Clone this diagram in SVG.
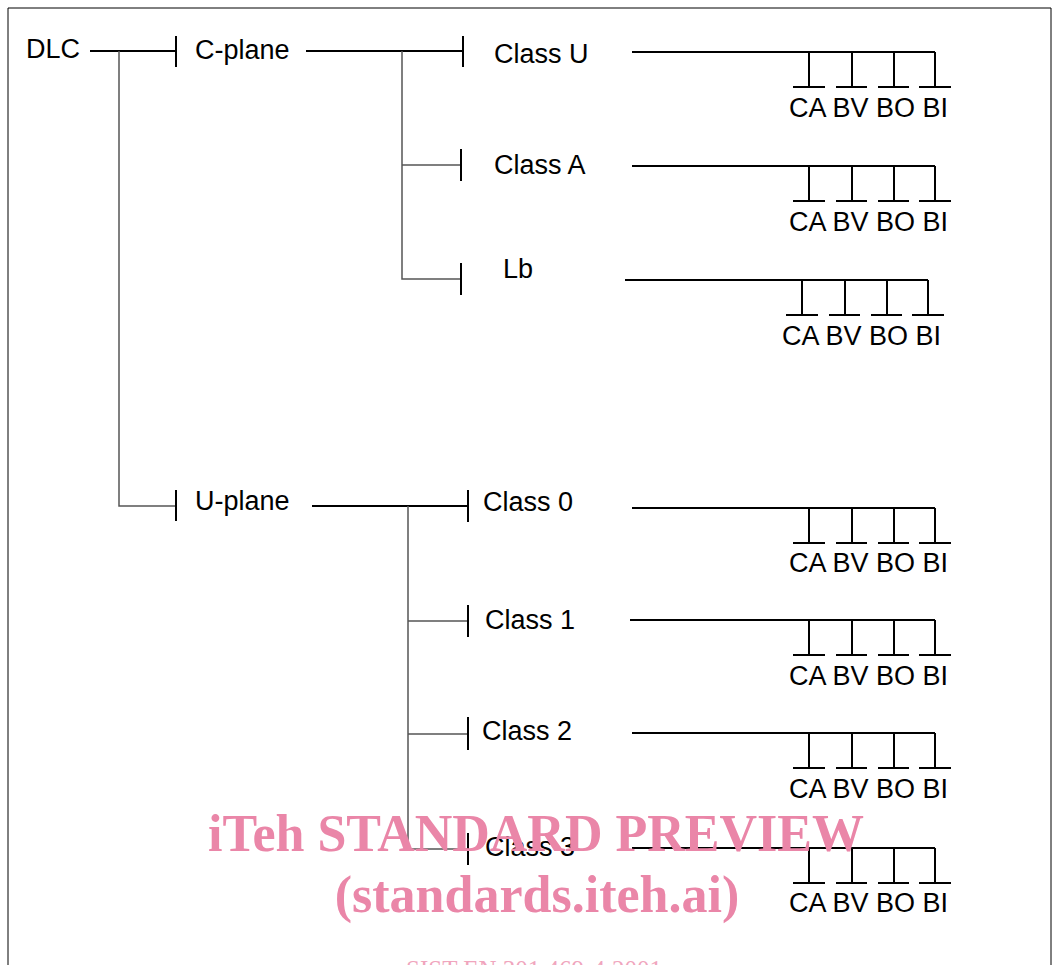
<svg xmlns="http://www.w3.org/2000/svg" xmlns:xlink="http://www.w3.org/1999/xlink" width="1053" height="965" viewBox="0 0 1053 965">
<style>
.lbl{font-family:"Liberation Sans",Arial,sans-serif;font-size:27px;fill:#000}
.blk{stroke:#000;stroke-width:2;fill:none}
.gry{stroke:#555;stroke-width:1.5;fill:none}
.wm{font-family:"Liberation Serif","Times New Roman",serif;font-weight:bold;fill:#ea86a8}
.wm2{font-family:"Liberation Serif","Times New Roman",serif;fill:#f0a5bd}
</style>
<defs>
<path id="fork" class="blk" d="M809,0 V35 M852,0 V35 M894,0 V35 M935,0 V35 M793,35 H825 M836,35 H867 M878,35 H909 M919,35 H951"/>
</defs>
<rect width="1053" height="965" fill="#fff"/>
<path d="M8,970 V8 H1051 V970" fill="none" stroke="#000" stroke-width="1"/>

<g id="connectors">
<path class="blk" d="M90,51 H176 M176,36 V67"/>
<path class="gry" d="M119,51 V506 H176"/>
<path class="blk" d="M176,490 V521"/>
<path class="blk" d="M306,51 H463 M463,36 V67"/>
<path class="gry" d="M402,51 V279 H461 M402,165 H461"/>
<path class="blk" d="M461,149 V181 M461,263 V295"/>
<path class="blk" d="M312,506 H468 M468,490 V522"/>
<path class="gry" d="M408,506 V849 H468 M408,621 H468 M408,734 H468"/>
<path class="blk" d="M468,605 V637 M468,717 V750 M468,833 V865"/>
<path class="blk" d="M632,52 H935"/>
<use xlink:href="#fork" transform="translate(0,52)"/>
<path class="blk" d="M632,166 H935"/>
<use xlink:href="#fork" transform="translate(0,166)"/>
<path class="blk" d="M625,280 H928"/>
<use xlink:href="#fork" transform="translate(-7,280)"/>
<path class="blk" d="M632,508 H935"/>
<use xlink:href="#fork" transform="translate(0,508)"/>
<path class="blk" d="M630,620 H935"/>
<use xlink:href="#fork" transform="translate(0,620)"/>
<path class="blk" d="M632,733 H935"/>
<use xlink:href="#fork" transform="translate(0,733)"/>
<path class="blk" d="M632,848 H935"/>
<use xlink:href="#fork" transform="translate(0,848)"/>
</g>

<g id="node-dlc"><text class="lbl" x="26" y="58">DLC</text></g>
<g id="node-cplane"><text class="lbl" x="195" y="59">C-plane</text></g>
<g id="node-uplane"><text class="lbl" x="195" y="510">U-plane</text></g>
<g id="node-classU"><text class="lbl" x="494" y="63">Class U</text></g>
<g id="node-classA"><text class="lbl" x="494" y="174">Class A</text></g>
<g id="node-lb"><text class="lbl" x="503" y="278">Lb</text></g>
<g id="node-class0"><text class="lbl" x="483" y="511">Class 0</text></g>
<g id="node-class1"><text class="lbl" x="485" y="629">Class 1</text></g>
<g id="node-class2"><text class="lbl" x="482" y="740">Class 2</text></g>
<g id="node-class3"><text class="lbl" x="485" y="856">Class 3</text></g>

<g id="leaves-classU"><text class="lbl" x="789" y="117">CA BV BO BI</text></g>
<g id="leaves-classA"><text class="lbl" x="789" y="231">CA BV BO BI</text></g>
<g id="leaves-lb"><text class="lbl" x="782" y="345">CA BV BO BI</text></g>
<g id="leaves-class0"><text class="lbl" x="789" y="572">CA BV BO BI</text></g>
<g id="leaves-class1"><text class="lbl" x="789" y="685">CA BV BO BI</text></g>
<g id="leaves-class2"><text class="lbl" x="789" y="798">CA BV BO BI</text></g>
<g id="leaves-class3"><text class="lbl" x="789" y="912">CA BV BO BI</text></g>

<g id="watermark">
<text class="wm" x="536" y="851" font-size="52" text-anchor="middle">iTeh STANDARD PREVIEW</text>
<text class="wm" x="537" y="912" font-size="52" text-anchor="middle">(standards.iteh.ai)</text>
<text class="wm2" x="534" y="978" font-size="25" text-anchor="middle">SIST EN 301 469-4:2001</text>
</g>
</svg>
